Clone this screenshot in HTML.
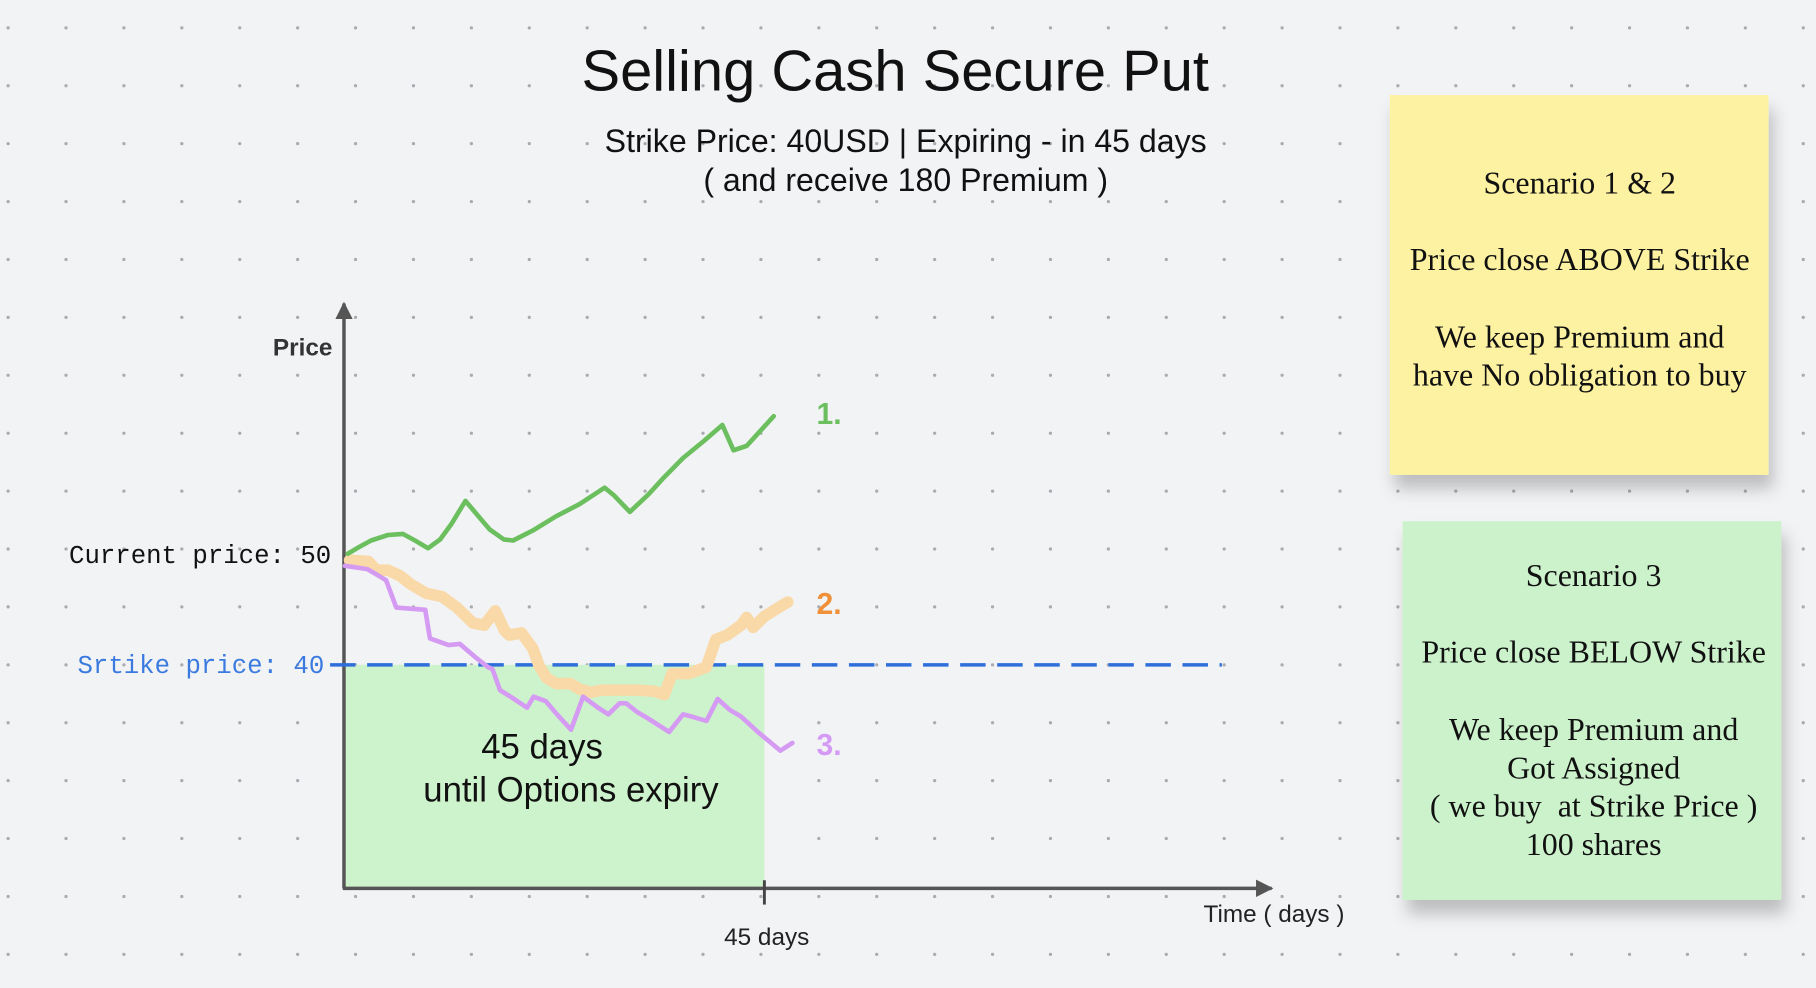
<!DOCTYPE html>
<html><head><meta charset="utf-8">
<style>
html,body{margin:0;padding:0;background:#f2f3f5;}
svg{display:block}
</style></head>
<body>
<svg id="chart" width="1816" height="988" viewBox="0 0 1568 853" xmlns="http://www.w3.org/2000/svg">
<defs>
<filter id="sh" x="-10%" y="-10%" width="130%" height="140%">
<feDropShadow dx="4" dy="12" stdDeviation="7" flood-color="#000" flood-opacity="0.22"/>
</filter>
<marker id="arr" viewBox="0 0 10 10" refX="9" refY="5" markerWidth="5" markerHeight="5" orient="auto">
<path d="M0,0 L10,5 L0,10 z" fill="#555"/>
</marker>
</defs>
<rect width="1568" height="853" fill="#f2f3f5"/>
<g id="dots"></g>

<text x="773" y="78" text-anchor="middle" font-family="Liberation Sans, sans-serif" font-size="50" fill="#111">Selling Cash Secure Put</text>
<text x="782" y="131" text-anchor="middle" font-family="Liberation Sans, sans-serif" font-size="27.7" fill="#111">Strike Price: 40USD | Expiring - in 45 days</text>
<text x="782" y="165" text-anchor="middle" font-family="Liberation Sans, sans-serif" font-size="27.7" fill="#111">( and receive 180 Premium )</text>

<rect x="297" y="574" width="363" height="193" fill="#cdf3cc"/>
<text x="468" y="655" text-anchor="middle" font-family="Liberation Sans, sans-serif" font-size="30" fill="#111">45 days</text>
<text x="493" y="692" text-anchor="middle" font-family="Liberation Sans, sans-serif" font-size="30" fill="#111">until Options expiry</text>

<line x1="297" y1="767" x2="297" y2="262" stroke="#555" stroke-width="3" marker-end="url(#arr)"/>
<line x1="296" y1="767" x2="1098" y2="767" stroke="#555" stroke-width="3" marker-end="url(#arr)"/>
<line x1="660" y1="760" x2="660" y2="781" stroke="#444" stroke-width="2.5"/>
<text x="662" y="816" text-anchor="middle" font-family="Liberation Sans, sans-serif" font-size="21" fill="#222">45 days</text>
<text x="1100" y="796" text-anchor="middle" font-family="Liberation Sans, sans-serif" font-size="21" fill="#222">Time ( days )</text>
<text x="287" y="307" text-anchor="end" font-family="Liberation Sans, sans-serif" font-weight="bold" font-size="21" fill="#333">Price</text>
<text x="286" y="486" text-anchor="end" font-family="Liberation Mono, monospace" font-size="22.2" fill="#111">Current price: 50</text>
<text x="280" y="581" text-anchor="end" font-family="Liberation Mono, monospace" font-size="22.2" fill="#3b7be0">Srtike price: 40</text>
<line id="strike" x1="285" x2="1055" stroke="#2e6fdc" stroke-width="3" stroke-dasharray="22 10"/>

<g id="series"></g>

<text x="705" y="366" font-family="Liberation Sans, sans-serif" font-weight="bold" font-size="26" fill="#6cbf5e">1.</text>
<text x="705" y="530" font-family="Liberation Sans, sans-serif" font-weight="bold" font-size="26" fill="#f0913a">2.</text>
<text x="705" y="652" font-family="Liberation Sans, sans-serif" font-weight="bold" font-size="26" fill="#d49af5">3.</text>

<g>
<rect x="1200" y="82" width="327" height="328" fill="#fdf2a2" filter="url(#sh)"/>
<g font-family="Liberation Serif, serif" font-size="27.6" fill="#111" text-anchor="middle">
<text x="1364" y="167">Scenario 1 &amp; 2</text>
<text x="1364" y="233">Price close ABOVE Strike</text>
<text x="1364" y="300">We keep Premium and</text>
<text x="1364" y="333">have No obligation to buy</text>
</g></g>

<g>
<rect x="1211" y="450" width="327" height="327" fill="#ccf2cc" filter="url(#sh)"/>
<g font-family="Liberation Serif, serif" font-size="27.6" fill="#111" text-anchor="middle">
<text x="1376" y="506">Scenario 3</text>
<text x="1376" y="572">Price close BELOW Strike</text>
<text x="1376" y="639">We keep Premium and</text>
<text x="1376" y="672">Got Assigned</text>
<text x="1376" y="705" xml:space="preserve">( we buy  at Strike Price )</text>
<text x="1376" y="738">100 shares</text>
</g></g>
</svg>
<script>
const strikePrice = 40;
const greenDays = [0.4,1.6,2.9,4.7,6.3,7.6,9.0,10.3,11.5,13.0,14.3,15.6,17.1,18.1,20.2,22.7,25.2,27.9,28.9,30.6,32.6,34.1,36.3,38.6,40.5,41.7,43.1,44.5,46.0];
const greenPrices = [50.1,50.7,51.3,51.8,51.9,51.3,50.6,51.4,52.8,54.9,53.6,52.3,51.4,51.3,52.2,53.5,54.6,56.1,55.4,53.9,55.5,56.9,58.8,60.4,61.8,59.5,59.9,61.2,62.6];
const orangeDays = [0.6,2.6,3.5,4.7,6.0,7.2,8.8,10.5,12.1,13.8,15.0,16.2,17.2,17.7,19.0,20.2,20.9,21.7,22.7,24.2,25.2,26.4,27.6,29.5,31.4,33.2,34.3,35.1,36.9,38.8,39.8,41.0,42.5,43.1,43.8,45.0,46.5,47.5];
const orangePrices = [49.5,49.4,48.6,48.6,48.1,47.3,46.5,46.2,45.2,43.8,43.6,44.9,43.1,42.7,42.9,41.5,39.9,38.8,38.3,38.3,37.8,37.5,37.7,37.7,37.7,37.6,37.3,39.2,39.2,39.8,42.3,42.7,43.6,44.3,43.4,44.4,45.2,45.7];
const purpleDays = [0.1,2.5,4.5,5.6,8.7,9.2,11.2,12.4,14.2,15.4,15.9,16.7,18.2,19.6,20.3,21.6,22.8,24.3,25.6,27.2,28.3,29.5,30.2,31.4,32.6,34.8,36.3,37.2,38.8,40.0,41.3,42.5,44.3,46.7,48.0];
const purplePrices = [49.0,48.7,47.7,45.2,45.0,42.4,41.8,41.9,40.6,39.8,39.6,37.7,36.9,36.1,37.1,36.7,35.5,34.1,37.1,36.1,35.5,36.5,36.5,35.7,35.1,33.9,35.5,35.3,34.9,36.9,35.9,35.3,33.9,32.2,32.9];

const NS = 'http://www.w3.org/2000/svg';
function xScale(d){ return 297 + d * (363/45); }
function yScale(p){ return 479 - (p - 50) * 9.5; }

const dots = document.getElementById('dots');
for (let x = 7; x < 1568; x += 50) {
  for (let y = 24; y < 853; y += 50) {
    const c = document.createElementNS(NS, 'circle');
    c.setAttribute('cx', x); c.setAttribute('cy', y); c.setAttribute('r', 1.4);
    c.setAttribute('fill', '#a9abb0');
    dots.appendChild(c);
  }
}

const sl = document.getElementById('strike');
sl.setAttribute('y1', yScale(strikePrice));
sl.setAttribute('y2', yScale(strikePrice));

const g = document.getElementById('series');
function draw(days, prices, color, w, name) {
  const p = document.createElementNS(NS, 'polyline');
  p.setAttribute('points', days.map((d, i) => xScale(d) + ',' + yScale(prices[i])).join(' '));
  p.setAttribute('fill', 'none');
  p.setAttribute('stroke', color);
  p.setAttribute('stroke-width', w);
  p.setAttribute('stroke-linejoin', 'round');
  p.setAttribute('stroke-linecap', 'round');
  
  
  g.appendChild(p);
}
draw(orangeDays, orangePrices, '#f9d9a8', 10, 'scenario-2-line');
draw(purpleDays, purplePrices, '#d59bf3', 4, 'scenario-3-line');
draw(greenDays, greenPrices, '#6cbf5e', 4, 'scenario-1-line');
</script>
</body></html>
